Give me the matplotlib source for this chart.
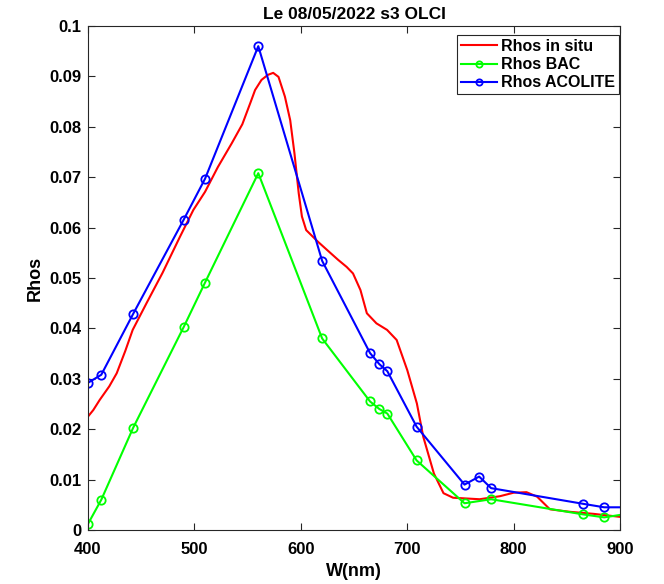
import matplotlib.pyplot as plt

plt.rcParams['font.family'] = ['Liberation Sans', 'DejaVu Sans']
plt.rcParams['font.weight'] = 'bold'

# in situ spectrum (nm, Rhos)
wl_insitu = [400, 405, 411, 420, 427, 435, 442, 455, 470, 486, 499, 510, 522, 535,
             545, 553, 557, 563, 569, 574, 579, 585, 590, 594, 598, 601, 605, 616,
             626, 635, 643, 649, 656, 662, 671, 681, 690, 700, 709, 715, 725, 734,
             743, 768, 787, 800, 812, 822, 834, 853, 875, 900]
rhos_insitu = [0.0225, 0.0238, 0.0258, 0.0285, 0.0311, 0.0355, 0.0397, 0.0450,
               0.0510, 0.0580, 0.0635, 0.0671, 0.0720, 0.0767, 0.0805, 0.0850,
               0.0873, 0.0893, 0.0903, 0.0907, 0.0899, 0.0860, 0.0813, 0.0747,
               0.0668, 0.0622, 0.0595, 0.0572, 0.0553, 0.0536, 0.0522, 0.0509,
               0.0476, 0.0430, 0.0410, 0.0397, 0.0377, 0.0317, 0.0251, 0.0185,
               0.0112, 0.0073, 0.0064, 0.0061, 0.0067, 0.0074, 0.0075, 0.0066,
               0.0041, 0.0036, 0.0032, 0.0026]

# OLCI bands
wl_bac = [400, 412.5, 442.5, 490, 510, 560, 620, 665, 673.75, 681.25, 708.75,
          753.75, 778.75, 865, 885, 940]
rhos_bac = [0.0012, 0.0060, 0.0203, 0.0403, 0.0491, 0.0708, 0.0380, 0.0255,
            0.0240, 0.0231, 0.0138, 0.0053, 0.0061, 0.0031, 0.0025, 0.0043]

wl_acolite = [400, 412.5, 442.5, 490, 510, 560, 620, 665, 673.75, 681.25, 708.75,
              753.75, 767.5, 778.75, 865, 885, 940]
rhos_acolite = [0.0292, 0.0308, 0.0429, 0.0616, 0.0697, 0.0960, 0.0534, 0.0351,
                0.0329, 0.0315, 0.0205, 0.0090, 0.0106, 0.0083, 0.0052, 0.0045,
                0.0045]

fig = plt.figure(figsize=(6.64, 5.84), dpi=100)
ax = fig.add_axes([0.1325, 0.0925, 0.8015, 0.863])

ax.plot(wl_insitu, rhos_insitu, color=(1, 0, 0), lw=1.5, label='Rhos in situ')
ax.plot(wl_bac, rhos_bac, color=(0, 1, 0), lw=1.5, marker='o', ms=6,
        mfc='none', mew=1.3, label='Rhos BAC')
ax.plot(wl_acolite, rhos_acolite, color=(0, 0, 1), lw=1.5, marker='o', ms=6,
        mfc='none', mew=1.3, label='Rhos ACOLITE')

ax.set_xlim(400, 900)
ax.set_ylim(0, 0.1)
ax.set_xticks([400, 500, 600, 700, 800, 900])
ax.set_yticks([0, 0.01, 0.02, 0.03, 0.04, 0.05, 0.06, 0.07, 0.08, 0.09, 0.1])
ax.set_yticklabels(['0', '0.01', '0.02', '0.03', '0.04', '0.05', '0.06', '0.07',
                    '0.08', '0.09', '0.1'])

gray = (0.15, 0.15, 0.15)
for s in ax.spines.values():
    s.set_color(gray)
    s.set_linewidth(0.8)
ax.tick_params(direction='in', length=5, width=0.8, color=gray, labelsize=12,
               top=True, right=True)
ax.tick_params(axis='x', pad=9)
ax.tick_params(axis='y', pad=5)

ax.set_xlabel('W(nm)', fontsize=13, fontweight='bold', labelpad=4)
ax.set_ylabel('Rhos', fontsize=13, fontweight='bold', labelpad=4)
ax.set_title('Le 08/05/2022 s3 OLCI', fontsize=12.5, fontweight='bold', pad=5)

leg = ax.legend(loc='upper right', bbox_to_anchor=(0.997, 0.982),
                prop={'weight': 'bold', 'size': 11.5},
                handlelength=2.3, handletextpad=0.2, borderpad=0.25,
                labelspacing=0.2, markerscale=0.75, fancybox=False,
                framealpha=1, borderaxespad=0.0)
leg.get_frame().set_edgecolor(gray)
leg.get_frame().set_linewidth(0.8)

fig.savefig('out.png', dpi=100)
